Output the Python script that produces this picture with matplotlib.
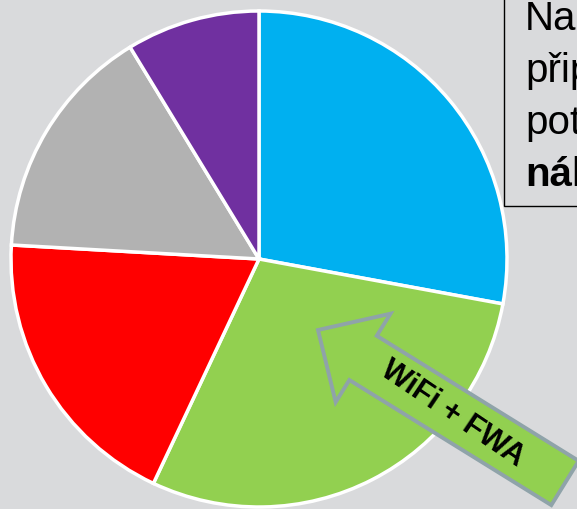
import matplotlib.pyplot as plt
from matplotlib.patches import FancyArrow, Rectangle

plt.rcParams['font.family'] = ['Liberation Sans', 'DejaVu Sans']

# data
shares = [27.9, 29.1, 18.9, 15.4, 8.7]
colors = ['#00B0F0', '#92D050', '#FF0000', '#B2B2B2', '#7030A0']
box_lines = ['Nabídka', 'připojení', 'potřebuje', 'náhradu']
arrow_label = 'WiFi + FWA'

W, H = 577, 509
bg = '#D9DADC'
fig = plt.figure(figsize=(W / 100, H / 100), dpi=100, facecolor=bg)

# pie, centre (259, 259) px, radius 248 px
cx, cy, r = 259, 259, 248
ax = fig.add_axes([(cx - r) / W, (H - cy - r) / H, 2 * r / W, 2 * r / H])
ax.pie(shares, colors=colors, startangle=90, counterclock=False,
       wedgeprops=dict(edgecolor='white', linewidth=2.5))
ax.set_xlim(-1.0, 1.0)
ax.set_ylim(-1.0, 1.0)
ax.axis('off')

# overlay in pixel coordinates
ov = fig.add_axes([0, 0, 1, 1])
ov.set_xlim(0, W)
ov.set_ylim(H, 0)
ov.axis('off')
ov.patch.set_alpha(0)

# text box at top right (runs off the edge like in the slide)
ov.add_patch(Rectangle((504, -10), 200, 216, facecolor=bg, edgecolor='black',
                       linewidth=1.0, zorder=3))
baselines = [30, 82, 134, 186]
for i, (line, yb) in enumerate(zip(box_lines, baselines)):
    ov.text(525, yb, line, fontsize=29, va='baseline', ha='left',
            fontweight='bold' if i == 3 else 'normal', color='black',
            zorder=4, clip_on=True)

# arrow pointing at the green slice
tail = (565, 483)
tip = (318, 330)
ov.add_patch(FancyArrow(tail[0], tail[1], tip[0] - tail[0], tip[1] - tail[1],
                        width=52, head_width=104, head_length=53,
                        length_includes_head=True, facecolor='#92D050',
                        edgecolor='#8FA3A9', linewidth=2.8, zorder=5))
ov.text(452, 414, arrow_label, fontsize=22, fontweight='bold', rotation=-34,
        rotation_mode='anchor', ha='center', va='center', color='black', zorder=6)

fig.savefig('out.png', dpi=100, facecolor=bg)
